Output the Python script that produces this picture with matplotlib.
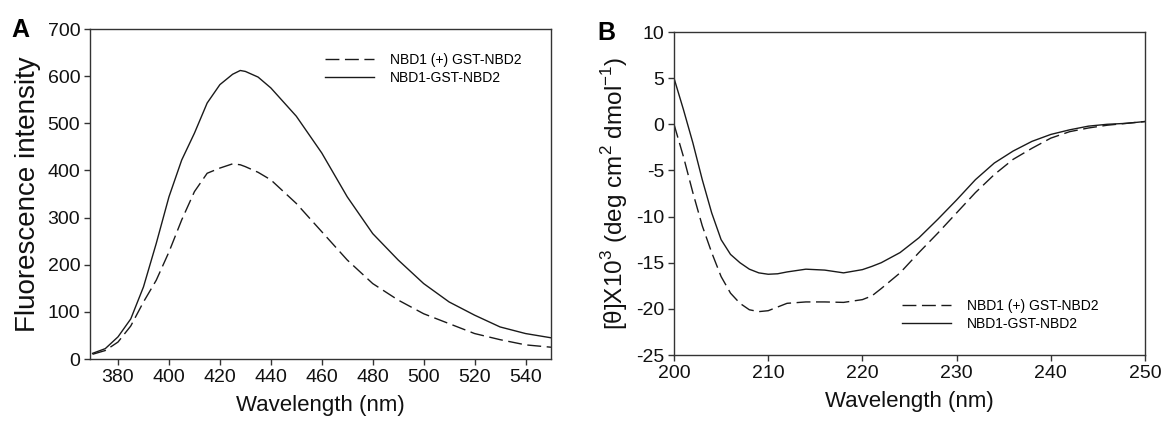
import matplotlib
matplotlib.use("Agg")
import matplotlib.pyplot as plt
import numpy as np

plt.rcParams['font.family'] = ['Liberation Sans', 'DejaVu Sans']
plt.rcParams['axes.unicode_minus'] = False
plt.rcParams['mathtext.fontset'] = 'custom'
plt.rcParams['mathtext.rm'] = 'Liberation Sans'

# Panel A: fluorescence spectra
wl_a = [370, 375, 380, 385, 390, 395, 400, 405, 410, 415, 420, 425, 428, 430, 435, 440,
        450, 460, 470, 480, 490, 500, 510, 520, 530, 540, 550]
fl_solid = [12, 22, 47, 85, 153, 245, 344, 422, 479, 543, 582, 604, 612, 610, 598, 575,
            515, 437, 344, 266, 210, 160, 121, 93, 68, 54, 45]
fl_dash = [10, 18, 36, 70, 121, 167, 227, 295, 355, 394, 405, 414, 412, 408, 396, 380,
           330, 270, 210, 160, 125, 96, 75, 54, 41, 30, 25]

# Panel B: CD spectra
wl_b = [200, 201, 202, 203, 204, 205, 206, 207, 208, 209, 210, 211, 212, 214, 216, 218,
        220, 221, 222, 224, 226, 228, 230, 232, 234, 236, 238, 240, 242, 244, 246, 248, 250]
cd_solid = [5.0, 1.6, -2.0, -6.0, -9.6, -12.5, -14.1, -15.0, -15.7, -16.1, -16.25, -16.2,
            -16.0, -15.7, -15.8, -16.1, -15.75, -15.4, -15.0, -13.9, -12.3, -10.3, -8.2,
            -6.0, -4.2, -2.9, -1.85, -1.1, -0.6, -0.2, 0.0, 0.1, 0.3]
cd_dash = [0.0, -3.5, -7.4, -11.0, -13.9, -16.5, -18.3, -19.4, -20.1, -20.3, -20.2, -19.8,
           -19.4, -19.25, -19.25, -19.3, -19.0, -18.6, -17.8, -16.1, -13.9, -11.8, -9.6,
           -7.4, -5.45, -3.8, -2.6, -1.5, -0.8, -0.4, -0.1, 0.1, 0.3]

labels = ['NBD1 (+) GST-NBD2', 'NBD1-GST-NBD2']
xticks_a = [380, 400, 420, 440, 460, 480, 500, 520, 540]
yticks_a = [0, 100, 200, 300, 400, 500, 600, 700]
xticks_b = [200, 210, 220, 230, 240, 250]
yticks_b = [-25, -20, -15, -10, -5, 0, 5, 10]

W, H = 1165, 426
fig = plt.figure(figsize=(W / 100, H / 100), dpi=100)

def px_axes(l, t, r, b):
    return fig.add_axes([l / W, 1 - b / H, (r - l) / W, (b - t) / H])

ax1 = px_axes(90, 29, 551, 359)
ax2 = px_axes(674, 32, 1145, 355)

col = '#1a1a1a'
for ax in (ax1, ax2):
    for s in ax.spines.values():
        s.set_linewidth(1.0)
        s.set_color('#333333')
    ax.tick_params(axis='both', which='major', direction='out', length=4, width=1,
                   labelsize=14, top=False, right=False, color='#333333', pad=3,
                   labelcolor='#111111')

ax1.plot(wl_a, fl_dash, color=col, lw=1.0, dashes=(10, 4), label=labels[0])
ax1.plot(wl_a, fl_solid, color=col, lw=1.0, label=labels[1])
ax1.set_xlim(369, 550)
ax1.set_ylim(0, 700)
ax1.set_xticks(xticks_a)
ax1.set_yticks(yticks_a)
ax1.set_xlabel('Wavelength (nm)', fontsize=16, labelpad=7, color='#111111')
ax1.set_ylabel('Fluorescence intensity', fontsize=20, labelpad=5, color='#111111')
ax1.legend(loc='upper left', bbox_to_anchor=((325 - 90) / 461, (359 - 53) / 330),
           frameon=False, fontsize=10, handlelength=3.5, handletextpad=1.2,
           borderpad=0, borderaxespad=0, labelspacing=0.3)

ax2.plot(wl_b, cd_dash, color=col, lw=1.0, dashes=(10, 4), label=labels[0])
ax2.plot(wl_b, cd_solid, color=col, lw=1.0, label=labels[1])
ax2.set_xlim(200, 250)
ax2.set_ylim(-25, 10)
ax2.set_xticks(xticks_b)
ax2.set_yticks(yticks_b)
ax2.set_xlabel('Wavelength (nm)', fontsize=16, labelpad=7, color='#111111')
ax2.set_ylabel(r'[θ]X10$^{3}$ (deg cm$^{2}$ dmol$^{-1}$)', fontsize=17.5, labelpad=4,
               color='#111111')
ax2.legend(loc='upper left', bbox_to_anchor=((902 - 674) / 471, (355 - 299) / 323),
           frameon=False, fontsize=10, handlelength=3.5, handletextpad=1.2,
           borderpad=0, borderaxespad=0, labelspacing=0.3)

fig.text(11 / W, 1 - 37 / H, 'A', fontsize=18, fontweight='bold', va='baseline')
fig.text(597 / W, 1 - 40 / H, 'B', fontsize=18, fontweight='bold', va='baseline')

fig.savefig('out.png', dpi=100)
